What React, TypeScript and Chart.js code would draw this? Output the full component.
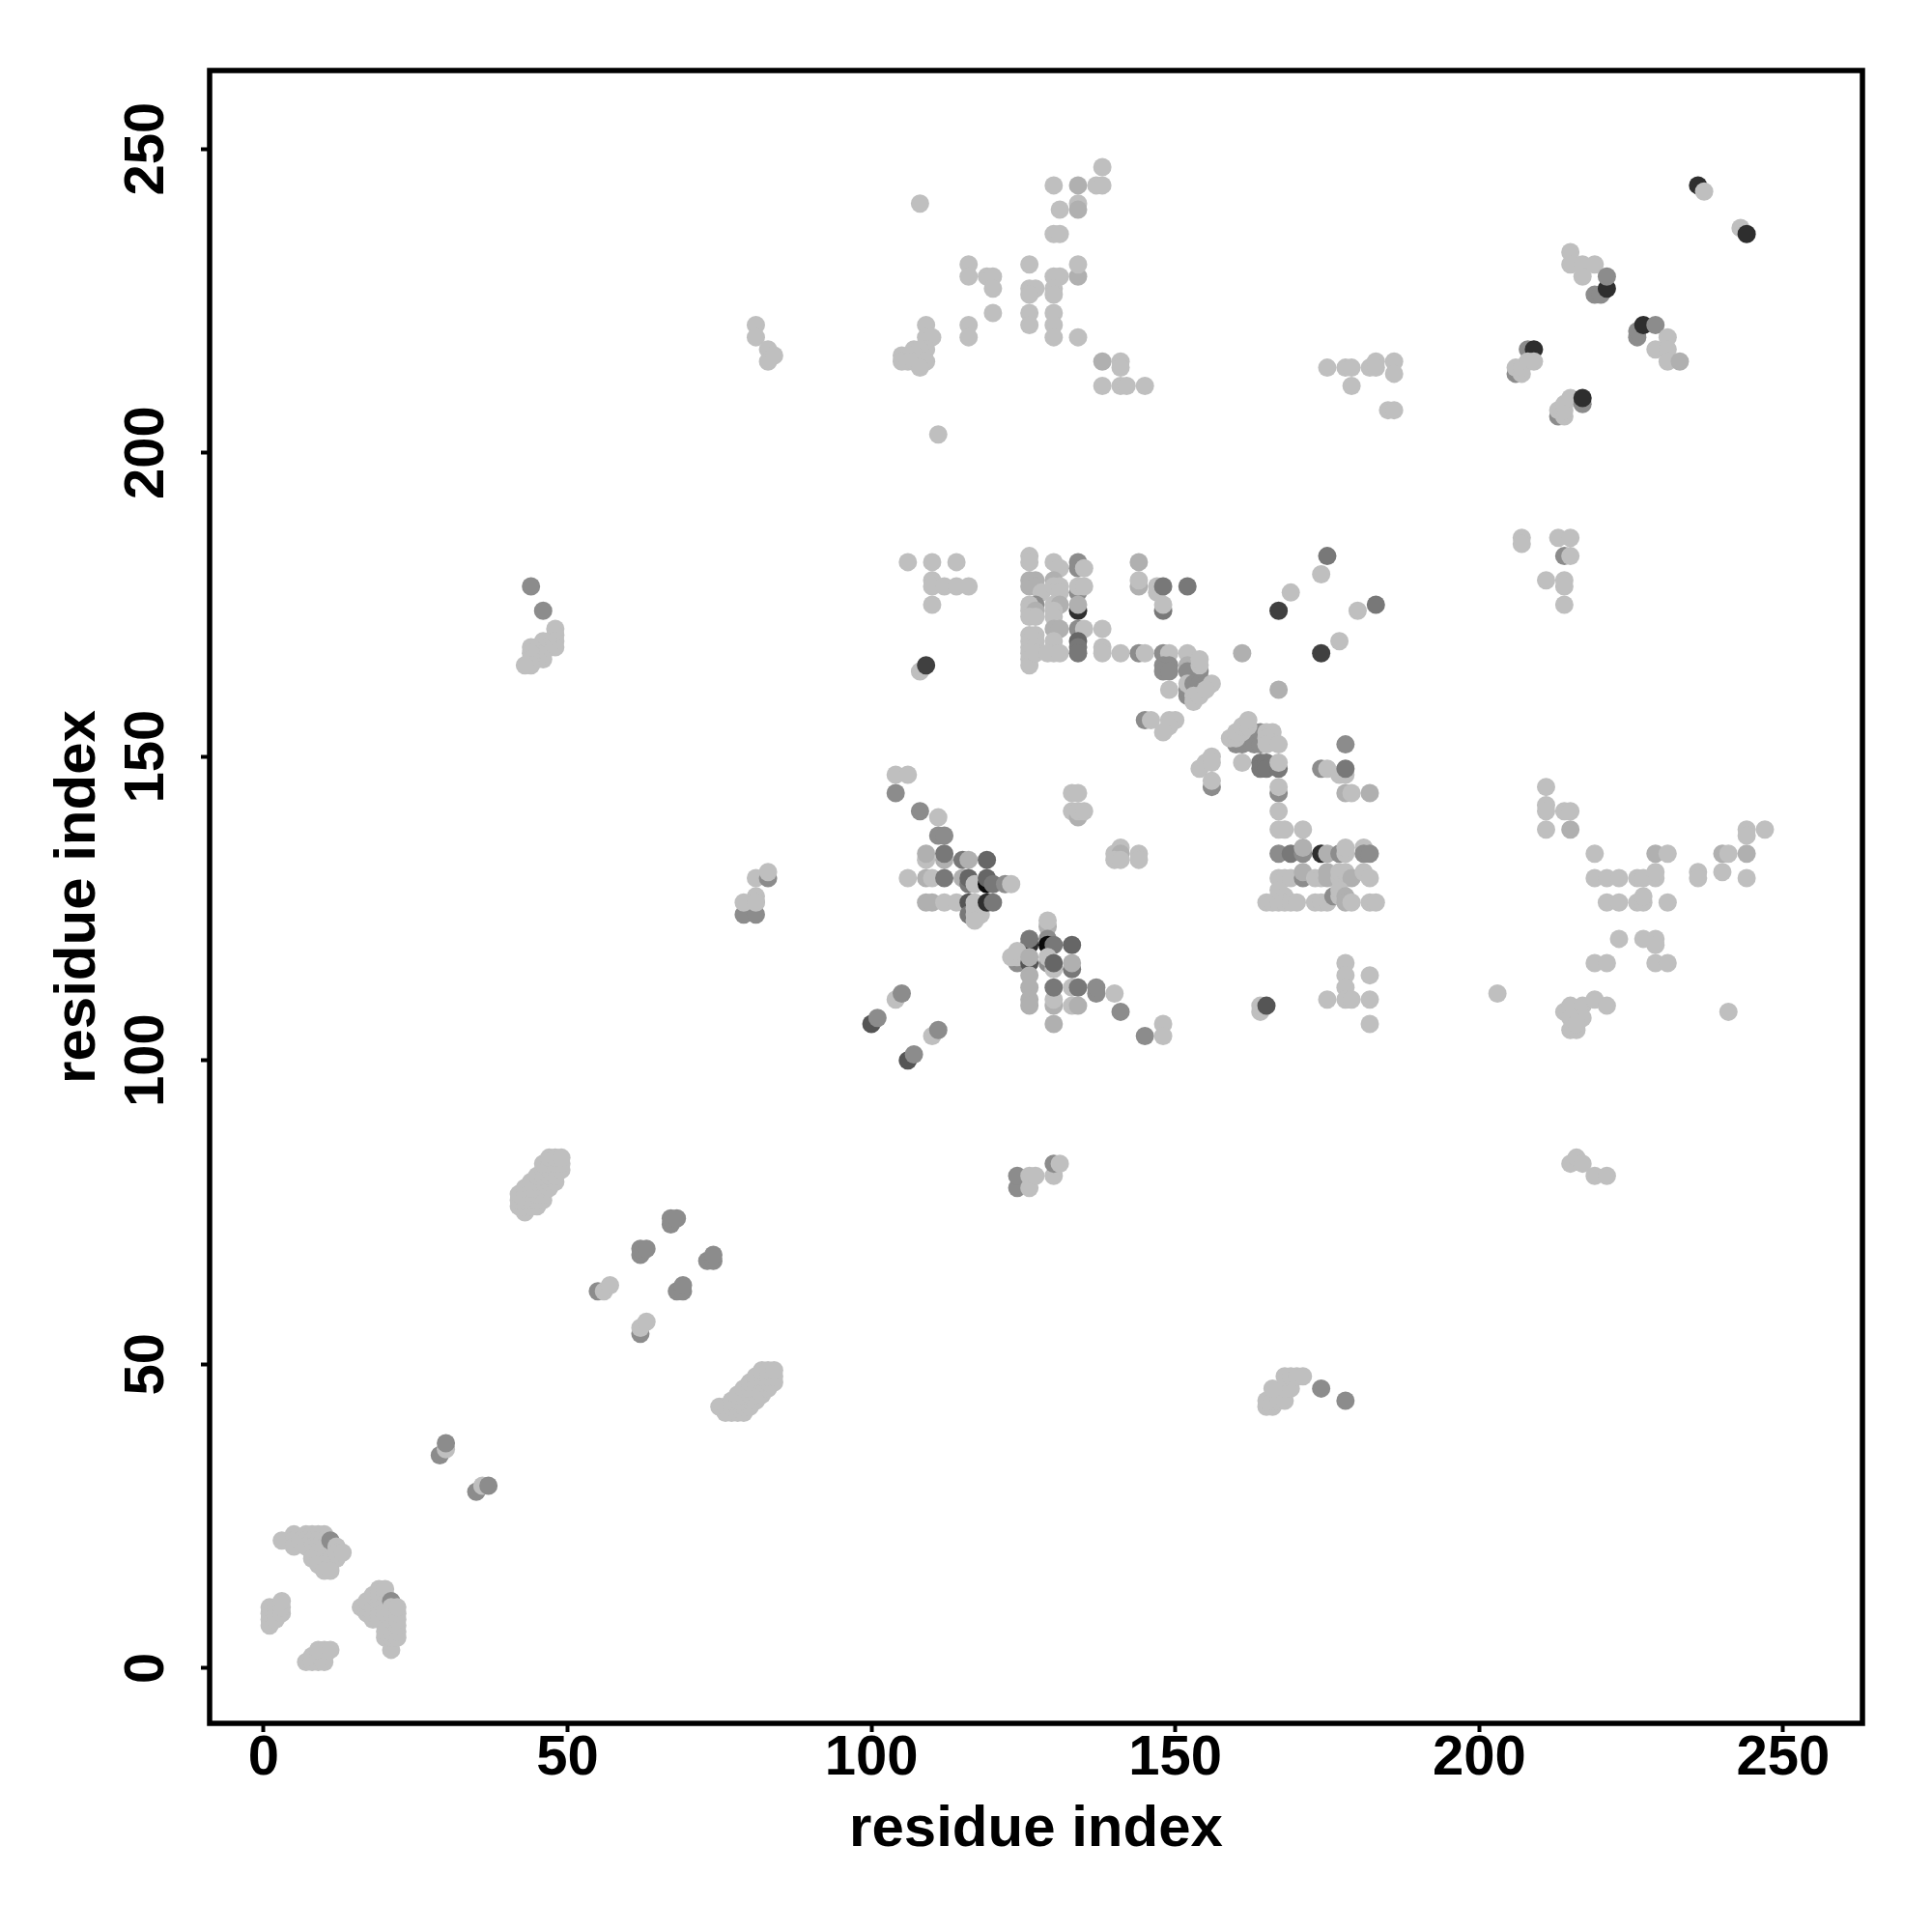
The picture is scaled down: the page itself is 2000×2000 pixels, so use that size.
import React, { useEffect, useRef } from "react";
import { Chart, registerables } from "chart.js";

Chart.register(...registerables);

type Contact = number[];

const xTicks = [0, 50, 100, 150, 200, 250];
const yTicks = [0, 50, 100, 150, 200, 250];
const axisTitle = "residue index";
const scoreGrays = ["#bfbfbf", "#b0b0b0", "#8c8c8c", "#787878", "#666666", "#555555", "#404040", "#2e2e2e", "#0a0a0a"];

// each contact: [residue x, residue y, score class (0 when omitted)], in drawing order
const originBlocks: Contact[] = [
  [1,7],[1,8],[1,9],[1,10],[2,8],[2,9],[2,10],[3,9],[3,10],[3,11],
  [7,1],[8,1],[9,1],[10,1],[8,2],[9,2],[10,2],[9,3],[10,3],[11,3],
  [16,10],[17,9],[17,10],[17,11],[18,8],[18,9],[18,10],[18,11],[18,12],[19,8],[19,9],[19,10],[19,11],[19,12],[19,13],
  [20,9],[20,10],[20,11],[20,12],[20,13],[20,5],[20,6],[21,11,2],[21,3],[21,5],[21,6],[21,7],[21,8],[21,9],[21,10],
  [22,5],[22,6],[22,7],[22,8],[22,9],[22,10],
  [3,21],[5,22],[5,21],[5,20],[6,21],[7,22],[8,22],[9,22],[10,22],[7,21],[8,21],[9,21],[10,21],[7,20],[8,20],[9,20],[10,20],
  [8,19],[9,19],[10,19],[11,19],[8,18],[9,18],[10,18],[11,18],[12,18],[9,17],[10,17],[11,17],[10,16],[11,16],
  [11,21,2],[12,20],[12,19],[13,19],
];
const lowDiagonal: Contact[] = [
  [29,35,2],[30,36],[30,37,2],[35,29,2],[36,30],[37,30,2],
  [55,62,2],[56,62],[57,63],[62,55,2],[62,56],[63,57],
  [62,68,2],[62,69,2],[63,69,2],[67,73,2],[67,74,2],[68,74,2],[68,62,2],[69,62,2],[69,63,2],[73,67,2],[74,67,2],[74,68,2],
];
const helixBands: Contact[] = [
  [43,75],[42,76],[43,76],[44,76],[45,76],[42,77],[43,77],[44,77],[45,77],[46,77],[42,78],[43,78],[44,78],[45,78],[46,78],
  [43,79],[44,79],[45,79],[46,79],[47,79],[44,80],[45,80],[46,80],[47,80],[48,80],[45,81],[46,81],[47,81],[48,81],
  [46,82],[47,82],[48,82],[49,82],[46,83],[47,83],[48,83],[49,83],[47,84],[48,84],[49,84],
  [75,43],[76,42],[77,42],[78,42],[79,42],[76,43],[77,43],[78,43],[79,43],[80,43],[77,44],[78,44],[79,44],[80,44],[81,44],
  [78,45],[79,45],[80,45],[81,45],[82,45],[79,46],[80,46],[81,46],[82,46],[83,46],[80,47],[81,47],[82,47],[83,47],[84,47],
  [81,48],[82,48],[83,48],[84,48],[82,49],[83,49],[84,49],
];
const centralStrand: Contact[] = [
  [104,147],[106,147],[104,144,2],[108,141,2],[111,140],[111,137,2],[112,137,2],
  [109,133],[109,134,1],[112,133,1],[112,134,3],[115,133,3],[116,133,1],[119,133,4],
  [106,130],[109,130,1],[110,130],[112,130,3],[115,130,1],[116,129,3],[116,130,4],[117,129],
  [119,129,8],[119,130,4],[120,129,3],[122,129,2],[123,129],
  [109,126,1],[110,126,1],[112,126],[114,126],[116,126,5],[116,124,3],[117,125],[117,126],[117,124],[118,124],[117,123],[119,126,7],[120,126,3],
  [129,122,1],[129,123],[126,119,7],[126,120,3],[129,120,2],[129,119,8],[130,119,3],[133,119,4],
  [124,116,2],[124,117],[123,117],[124,118],[126,116,5],[126,117,1],[129,116,2],[129,117],[130,115],[130,116,4],[133,115,3],[133,116,1],
  [126,114,1],[126,112,1],[126,110,1],[126,109,1],[130,109,1],[130,110],[130,112,3],[130,106,1],
  [133,112],[134,112,3],[133,109],[134,109,1],[137,111,2],[137,112,2],[140,111],[141,108,2],[145,104,2],[148,106],[148,104],
  [104,110],[105,111,2],[100,106,5],[101,107,2],[110,104],[111,105,2],[106,100,5],[107,101,2],
];
const sideBlocks: Contact[] = [
  [133,144],[134,144],[133,141],[134,140,1],[134,141],[135,141],
  [140,134],[141,135],[141,134,1],[140,133],[141,133],[144,134],[144,133],
  [154,148],[155,149],[156,150],[156,149],[156,145,2],[156,146],
];
const rightStrand: Contact[] = [
  [178,152,2],[161,149],[164,149,3],[164,148,3],[165,149,3],[165,148,3],[167,148,3],[167,149],
  [167,144,2],[167,145],[167,141],[167,138],[168,138],[171,138],
  [174,148,2],[175,148],[177,147],[178,147],[178,148,3],[178,144,1],[179,144],[182,144,1],
  [167,134,2],[169,134,3],[171,134,2],[171,135,1],[174,134,7],[175,134,1],[177,134,2],[178,134],[178,135],[181,135],[181,134,2],[182,134,2],
  [167,130],[168,130],[169,130],[171,130,2],[171,131,1],[173,130],[174,130],[175,130,1],[175,131,1],[177,130],[177,131],[178,131],[179,130,1],[181,131],[182,130],
  [165,126],[166,126],[167,126],[167,128],[168,127],[168,126],[169,126],[170,126],[173,126],[174,126],[175,126],[176,127,2],[177,127],[177,128],[178,127,1],[178,126,1],[179,126],[182,126],[183,126],
  [178,116],[178,114],[178,112],[178,110],[179,110],[175,110],[182,114],[182,110],[182,106],
  [164,108],[164,109],[165,109,5],
];
const upperCentre: Contact[] = [
  [126,183],[126,182],[130,182],[131,181],[134,182,2],[134,181,2],[135,181],
  [126,179,1],[127,179,1],[126,178,1],[127,178,1],[128,177],[130,179,1],[130,178],[131,178],[131,177],[134,177,2],[134,178],[135,178],
  [127,175,2],[126,175],[130,175],[131,175,1],[134,174,7],[134,175,1],[126,174],[127,174,1],[126,173],[127,173],[130,174],[130,173],
  [130,171,1],[131,171,1],[134,171,2],[135,171],[138,171],
  [126,170],[126,169],[126,168],[126,167],[126,166],[126,165],[127,170],[127,169],[127,168],[127,167],
  [130,169],[130,167],[129,167],[131,167],[134,169,4],[134,168,3],[134,167,3],
  [138,168],[138,167],[141,167],[144,167,2],[145,167],[148,167,2],[149,167],[152,167],
  [148,165,2],[149,165,2],[148,164,2],[149,164,2],[152,165,1],[152,164,2],[154,164,2],[154,165],[154,166],
  [152,160,2],[152,161,2],[152,162],[153,162,2],[154,162,2],[155,162,2],[156,162],[153,160],[153,159],[154,160],[155,161],
  [149,161],[161,167,1],[167,161,1],
  [144,182,1],[144,178,1],[144,179],[147,178],[147,177],[148,178,3],[152,178,3],[148,174,3],[148,175],
  [175,183,3],[174,180],[169,177],[167,174,6],[180,174],[183,175,3],[174,167,6],[177,169],
  [145,156,2],[146,156],[149,156],[150,156],[149,155],[148,154],
  [160,152,2],[161,152,2],[162,153,2],[163,152,2],[164,152,2],[163,154,2],[164,154,2],
  [159,153],[160,153],[160,154],[161,154],[161,155],[162,155],[162,156],[165,154],[166,154],[165,153],[165,152],[167,152],
];
const upperLeftRow: Contact[] = [
  [106,182],[110,182],[114,182],[110,179],[110,178],[112,178],[114,178],[116,178],[110,175],[108,164],[109,165,6],
  [44,178,2],[46,174,2],[48,171],[48,170],[48,169],[48,168],[47,168],[46,169],[46,168],[46,167],[46,166],[45,168],[45,167],[45,166],[44,168],[44,167],[44,166],[44,165],[43,165],
  [81,127],[81,126],[79,124,2],[81,124,2],[79,126],[81,126],[81,130],[83,130,2],[83,131],
];
const topBlocks: Contact[] = [
  [138,247],[130,244],[134,244,1],[137,244],[138,244],[134,241],[134,240,1],[131,240],[130,236],[131,236],[108,241],
  [116,231],[116,229],[119,229],[120,229],[120,227],[126,231],[134,229,1],[134,231],[130,229],[131,229],[130,227],[130,226],[126,227],[127,227],[126,226],
  [126,223],[126,221],[130,223],[130,221],[130,219],[134,219],[120,223],[116,221],[116,219],
  [109,221],[109,219],[110,219],[109,217],[107,217],[108,217],[105,216],[105,215],[106,215],[107,216],[107,215],[109,215],[108,214],
  [138,215,1],[141,215],[141,214],[138,211],[141,211],[142,211],[145,211],[111,203],
  [81,221],[81,219],[83,217],[83,215],[84,216],
  [175,214],[178,214],[179,214],[179,211],[182,214],[183,215],[183,214],[186,215],[186,213],[185,207],[186,207],
];
const topRightBlocks: Contact[] = [
  [236,244,7],[237,243],[243,237],[244,236,7],
  [215,233],[215,231],[217,231],[219,231],[217,229],[219,226,2],[220,226,2],[221,227,7],[221,229,2],
  [226,219,2],[226,220,2],[227,221,7],[229,221,2],[231,219],[229,217],[231,217],[231,215],[233,215,1],
  [206,213,2],[208,217,2],[209,217,7],[206,214],[207,213],[207,214],[208,215],[209,215],
  [213,206,2],[214,206],[213,207],[214,207],[214,208],[215,209],[217,208,2],[217,209,7],
];
const rightBlocks: Contact[] = [
  [211,145],[211,142],[211,141],[211,138],[214,141],[215,141],[215,138,1],
  [219,134],[229,134,1],[231,134],[219,130],[221,130],[223,130],[226,130],[227,130],[229,130],[229,131],
  [221,126],[223,126],[226,126],[227,126],[227,127],[231,126],[223,120],[227,120],[229,120],[229,119],
  [219,116],[221,116],[229,116],[231,116],[203,111],
  [214,108],[215,109],[217,109],[219,110],[221,109],[217,107],[215,107],[215,105],[216,105],[216,106],[241,108],
  [236,131],[236,130],[240,134,1],[241,134],[244,134,1],[240,131],[244,130],[244,138],[244,137],[247,138],
  [207,186],[207,185],[211,179],[213,186],[215,186],[214,183,2],[215,183],[214,179],[214,178],[214,175],
  [215,83],[216,84],[217,83],[219,81],[221,81],
];
const lowerBlocks: Contact[] = [
  [165,43],[165,44],[166,43],[166,44],[167,44],[168,44],[166,46],[168,46],[169,46],[168,48],[169,48],[170,48],[171,48],[174,46,2],[178,44,2],
  [124,79,2],[124,81,2],[126,79],[126,81],[127,81],[130,81],[130,83,2],[131,83],
];

const contacts: Contact[] = [
  ...originBlocks, ...lowDiagonal, ...helixBands, ...centralStrand, ...sideBlocks, ...rightStrand,
  ...upperCentre, ...upperLeftRow, ...topBlocks, ...topRightBlocks, ...rightBlocks, ...lowerBlocks,
];

const frame = {
  id: "frame",
  afterDraw(chart: any) {
    const { ctx, chartArea: a } = chart;
    ctx.save();
    ctx.strokeStyle = "#000";
    ctx.lineWidth = 5.5;
    ctx.strokeRect(a.left, a.top, a.right - a.left, a.bottom - a.top);
    ctx.restore();
  },
};

export default function App() {
  const ref = useRef<HTMLCanvasElement>(null);
  useEffect(() => {
    const tickFont = { family: "'Liberation Sans', Arial, sans-serif", size: 58, weight: "bold" as const };
    const titleFont = { family: "'Liberation Sans', Arial, sans-serif", size: 60, weight: "bold" as const };
    const chart = new Chart(ref.current!, {
      type: "scatter",
      data: {
        datasets: [{
          data: contacts.map((c) => ({ x: c[0], y: c[1] })),
          pointRadius: 9.5,
          pointHoverRadius: 9.5,
          borderWidth: 0,
          pointBorderWidth: 0,
          pointBackgroundColor: contacts.map((c) => scoreGrays[c[2] ?? 0]),
        }],
      },
      options: {
        animation: false,
        responsive: false,
        maintainAspectRatio: false,
        layout: { padding: { top: 73, right: 72, left: 0, bottom: 0 } },
        plugins: { legend: { display: false }, tooltip: { enabled: false } },
        scales: {
          x: {
            type: "linear", min: -8.87, max: 263.05,
            afterBuildTicks: (s: any) => { s.ticks = xTicks.map((value) => ({ value })); },
            afterFit: (s: any) => { s.height = 216; },
            grid: { drawOnChartArea: false, tickLength: 9, tickWidth: 4, tickColor: "#000" },
            border: { display: false },
            ticks: { color: "#000", font: tickFont, padding: -7, maxRotation: 0, minRotation: 0, autoSkip: false },
            title: { display: true, text: axisTitle, color: "#000", font: titleFont, padding: { top: 0, bottom: 70 } },
          },
          y: {
            type: "linear", min: -9.1, max: 262.9,
            afterBuildTicks: (s: any) => { s.ticks = yTicks.map((value) => ({ value })); },
            afterFit: (s: any) => { s.width = 217; },
            grid: { drawOnChartArea: false, tickLength: 9, tickWidth: 4, tickColor: "#000" },
            border: { display: false },
            ticks: { color: "#000", font: tickFont, padding: 7, minRotation: 90, maxRotation: 90, crossAlign: "center", autoSkip: false },
            title: { display: true, text: axisTitle, color: "#000", font: titleFont, padding: { top: 45, bottom: 0 } },
          },
        },
      },
      plugins: [frame],
    } as any);
    return () => chart.destroy();
  }, []);
  return (
    <canvas
      ref={ref}
      width={2000}
      height={2000}
      style={{ position: "absolute", left: 0, top: 0, width: 2000, height: 2000, background: "#fff" }}
    />
  );
}
